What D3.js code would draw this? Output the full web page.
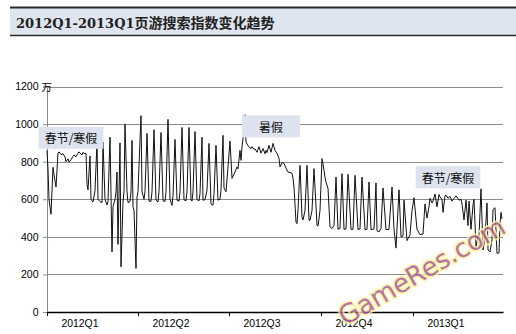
<!DOCTYPE html>
<html><head><meta charset="utf-8">
<script src="https://cdn.jsdelivr.net/npm/d3@7"></script>
<style>body{margin:0;background:#fff;} svg{display:block;}</style>
</head><body><svg id="c" width="516" height="334"></svg>
<script>
// ---------------- data ----------------
const titleText = "2012Q1-2013Q1页游搜索指数变化趋势";
const unitLabel = "万";
const yTickValues = [0, 200, 400, 600, 800, 1000, 1200];
const quarterStarts = ["2012-01-01", "2012-04-01", "2012-07-01", "2012-10-01", "2013-01-01"];
const quarterLabels = ["2012Q1", "2012Q2", "2012Q3", "2012Q4", "2013Q1"];
const seriesStart = "2012-01-01";
const seriesEnd = "2013-04-01";
// observation day (days since 2012-01-01) and search index (万)
const obsDay = [0,1,2,4,6,7,9,11,12,14,16,18,19,21,22,24,26,27,29,31,32,34,35,36,37,39,40,41,43,44,46,48,50,51,53,55,56,58,60,61,63,65,66,68,69,70,71,73,74,76,77,78,80,81,83,84,85,86,87,89,90,91,92,94,95,97,98,100,102,104,105,107,109,111,112,114,116,118,119,121,123,125,126,128,130,132,133,135,137,139,140,142,144,145,146,148,150,152,153,155,156,158,160,162,164,166,167,169,171,173,174,176,177,179,181,183,185,188,190,191,193,194,195,196,198,199,201,202,204,205,207,208,210,212,214,216,218,219,220,222,224,226,228,230,232,233,235,237,239,241,243,245,246,247,249,250,251,253,255,256,258,260,262,263,265,267,270,271,273,275,277,278,279,281,283,285,287,289,291,293,295,297,299,301,304,306,308,311,313,315,318,320,322,324,327,329,330,332,334,336,339,342,345,347,349,352,354,356,357,360,363,365,367,370,373,376,378,380,382,383,385,386,388,390,392,393,395,396,398,399,401,403,405,407,409,411,412,414,415,417,419,421,422,424,426,427,429,431,432,434,436,438,440,441,443,445,446,448,450,452,453,454,455];
const obsValue = [860,760,600,520,770,730,665,845,852,838,842,825,800,815,798,810,828,836,826,846,852,840,836,850,842,845,680,650,830,600,585,645,905,600,588,582,905,598,570,588,930,320,560,600,640,745,360,900,240,585,640,1000,640,582,588,640,913,560,540,232,612,640,780,1045,640,600,640,950,590,589,640,970,595,585,640,955,592,588,640,1025,600,567,620,918,595,590,640,982,597,592,640,982,596,590,640,960,598,592,630,930,595,598,648,897,575,568,630,887,595,600,650,940,660,640,772,910,711,745,772,762,860,807,878,924,1050,904,885,878,870,880,865,868,850,880,845,870,842,860,848,887,850,897,860,844,818,772,795,791,765,745,742,738,711,665,478,470,540,780,506,490,540,780,488,488,540,763,462,457,540,816,754,718,692,658,453,444,460,718,440,445,736,440,442,733,440,440,727,439,442,718,438,440,692,438,442,687,432,426,445,660,438,440,665,440,340,650,400,405,595,380,410,540,608,440,412,415,575,500,560,605,580,590,628,560,625,612,600,530,618,622,605,615,590,605,618,605,595,600,575,490,595,460,590,440,570,600,340,410,400,655,330,400,580,330,320,385,545,555,312,315,470,530,495,450];
const annotationText = ["春节/寒假", "暑假", "春节/寒假"];
const annotationDay = [24, 224, 401];
const annotationValue = [927, 988, 717];
const watermarkText = "GameRes.com";

// ---------------- drawing ----------------
const svg = d3.select("#c");
const parse = d3.utcParse("%Y-%m-%d");
const t0 = parse(seriesStart);
const dayDate = d => d3.utcDay.offset(t0, d);

const x = d3.scaleUtc().domain([t0, parse(seriesEnd)]).range([47, 503]);
const y = d3.scaleLinear().domain([0, 1200]).range([312, 86.5]);

// title band
svg.append("rect").attr("x", 10).attr("y", 8).attr("width", 506).attr("height", 27).attr("fill", "#dfe5ee");
svg.append("line").attr("x1", 10).attr("x2", 516).attr("y1", 7.5).attr("y2", 7.5).attr("stroke", "#2a2a2a").attr("stroke-width", 2);
svg.append("line").attr("x1", 10).attr("x2", 516).attr("y1", 35.5).attr("y2", 35.5).attr("stroke", "#2a2a2a").attr("stroke-width", 1.5);
const tt = svg.append("text").attr("x", 16).attr("y", 27.5).attr("fill", "#222").attr("font-weight", "bold");
const m = titleText.match(/^([\x00-\x7f]+)(.*)$/);
tt.append("tspan").attr("font-family", "'DejaVu Serif', serif").attr("font-size", 13).text(m[1]);
tt.append("tspan").attr("font-family", "'Noto Sans CJK SC', sans-serif").attr("font-size", 14).text(m[2]);

// gridlines
svg.append("g").selectAll("line").data(yTickValues.filter(v => v > 0)).join("line")
  .attr("x1", x.range()[0]).attr("x2", x.range()[1])
  .attr("y1", d => Math.round(y(d)) + 0.5).attr("y2", d => Math.round(y(d)) + 0.5)
  .attr("stroke", "#8c8c8c").attr("stroke-width", 1);

// y axis
const ya = svg.append("g").attr("transform", `translate(${x.range()[0]},0)`)
  .call(d3.axisLeft(y).tickValues(yTickValues).tickFormat(d3.format("d")).tickSize(4).tickPadding(4.5));
ya.select(".domain").attr("stroke", "#8c8c8c");
ya.selectAll(".tick line").attr("stroke", "#8c8c8c");
ya.selectAll("text").attr("font-family", "'Liberation Sans', Arial, sans-serif").attr("font-size", 10.5).attr("fill", "#000");
svg.append("text").attr("x", 41.5).attr("y", y(1200) + 4.5)
  .attr("font-family", "'Noto Sans CJK SC', sans-serif").attr("font-size", 10.5).attr("fill", "#000").text(unitLabel);

// series line
const pts = obsDay.map((d, i) => [dayDate(d), obsValue[i]]);
svg.append("path").datum(pts)
  .attr("fill", "none").attr("stroke", "#111").attr("stroke-width", 1).attr("stroke-linejoin", "round")
  .attr("d", d3.line().x(d => x(d[0])).y(d => y(d[1])));

// x axis
const qDates = quarterStarts.map(parse);
const xa = svg.append("g").attr("transform", `translate(0,${y(0)})`)
  .call(d3.axisBottom(x).tickValues(qDates).tickFormat("").tickSize(4).tickSizeOuter(0));
xa.select(".domain").attr("stroke", "#000").attr("stroke-width", 1.3);
xa.selectAll(".tick line").attr("stroke", "#000");
svg.append("g").selectAll("text").data(quarterLabels).join("text")
  .attr("x", (d, i) => x(d3.utcDay.offset(qDates[i], 33)))
  .attr("y", 327).attr("text-anchor", "middle")
  .attr("font-family", "'Liberation Sans', Arial, sans-serif").attr("font-size", 10.4).attr("fill", "#000")
  .text(d => d);

// annotations
annotationText.forEach((txt, i) => {
  const cx = x(dayDate(annotationDay[i])), cy = y(annotationValue[i]);
  const g = svg.append("g");
  const rect = g.append("rect").attr("fill", "#dce3ee");
  const t = g.append("text").attr("x", cx).attr("y", cy + 5.5).attr("text-anchor", "middle")
    .attr("font-family", "'Noto Sans CJK SC', sans-serif").attr("font-size", 12).attr("fill", "#111").text(txt);
  const w = Math.max(t.node().getComputedTextLength() + 12, 58);
  rect.attr("x", cx - w / 2).attr("y", cy - 11).attr("width", w).attr("height", 22);
});

// watermark
svg.append("text").attr("transform", "translate(345,326) rotate(-30)")
  .attr("font-family", "'DejaVu Sans', sans-serif").attr("font-size", 26)
  .attr("fill", "#a95c94").attr("stroke", "#faf4a0").attr("stroke-width", 3.5).attr("paint-order", "stroke")
  .attr("opacity", 0.85).text(watermarkText);
</script></body></html>
